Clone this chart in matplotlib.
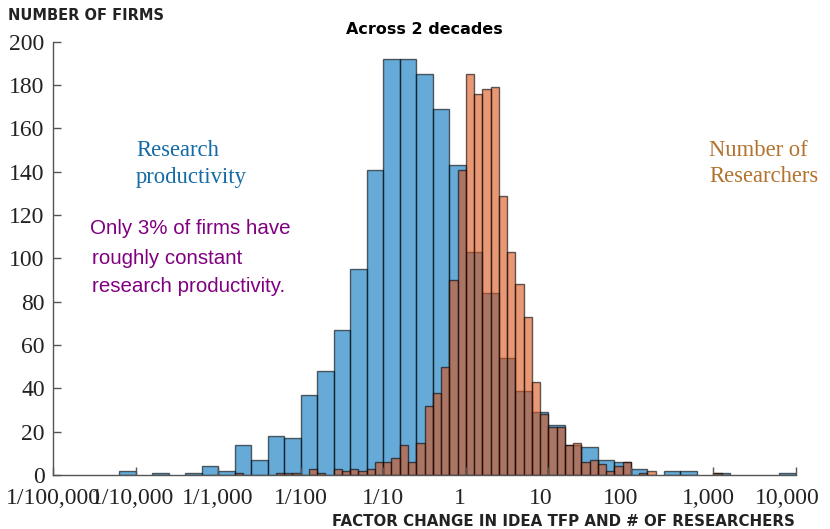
import numpy as np
import matplotlib
matplotlib.use("Agg")
import matplotlib.pyplot as plt
from matplotlib.transforms import ScaledTranslation

# ---- data (log10 bin edges and counts) ----
blue_bin_start = -5.0
blue_bin_width = 0.2
blue_counts = [0, 0, 0, 0, 2, 0, 1, 0, 1, 4,
               2, 14, 7, 18, 17, 37, 48, 67, 95, 141,
               192, 192, 185, 169, 143, 103, 84, 54, 39, 29,
               23, 14, 13, 7, 6, 3, 0, 2, 2, 0,
               1, 0, 0, 0, 1]

orange_bin_start = -5.0
orange_bin_width = 0.1
orange_counts = [0] * 22 + [1, 0, 0, 0, 0, 1, 1, 1, 0, 3,
                            1, 0, 3, 2, 3, 2, 3, 6, 6, 8,
                            14, 6, 15, 32, 38, 50, 90, 141, 185, 176,
                            178, 179, 129, 103, 88, 73, 43, 28, 22, 22,
                            14, 15, 6, 7, 5, 2, 4, 6, 0, 1,
                            2, 0, 0, 0, 0, 0, 0, 0, 1]

x_ticks = [1e-5, 1e-4, 1e-3, 1e-2, 1e-1, 1, 10, 100, 1000, 10000]
x_tick_labels = ["1/100,000", "1/10,000", "1/1,000", "1/100", "1/10",
                 "1", "10", "100", "1,000", "10,000"]
y_ticks = [0, 20, 40, 60, 80, 100, 120, 140, 160, 180, 200]

blue_col = (0.0, 0.447, 0.741)
orange_col = (0.85, 0.325, 0.098)

fig = plt.figure(figsize=(8.30, 5.29), dpi=100)
W, H = 830, 529
ax = fig.add_axes([53 / W, (H - 475) / H, (796 - 53) / W, (475 - 41.7) / H])

def draw(counts, start, width, color):
    n = len(counts)
    lo = start + width * np.arange(n)
    left = 10 ** lo
    right = 10 ** (lo + width)
    c = np.array(counts, dtype=float)
    m = c > 0
    ax.bar(left[m], c[m], width=(right - left)[m], align="edge",
           color=color, alpha=0.6, edgecolor="black", linewidth=1.0)

draw(blue_counts, blue_bin_start, blue_bin_width, blue_col)
draw(orange_counts, orange_bin_start, orange_bin_width, orange_col)

ax.set_xscale("log")
ax.set_xlim(1e-5, 1e4)
ax.set_ylim(0, 200)
ax.set_xticks(x_ticks)
ax.set_xticklabels(x_tick_labels)
ax.minorticks_off()
ax.set_yticks(y_ticks)
for s in ["top", "right"]:
    ax.spines[s].set_visible(False)
for s in ["left", "bottom"]:
    ax.spines[s].set_color("#555555")
    ax.spines[s].set_linewidth(1.0)
ax.tick_params(axis="both", direction="in", length=6, width=1.0, color="#555555",
               labelsize=17)
ax.tick_params(axis="x", pad=9)
ax.tick_params(axis="y", pad=6)
for lab in ax.get_xticklabels() + ax.get_yticklabels():
    lab.set_family("Liberation Serif")
    lab.set_color("#222222")

# slight horizontal nudges of x tick labels as in the reference
shifts_px = [0, -3, 0, 0, 0, -6, -8, -10, -5, -9]
for lab, dx in zip(ax.get_xticklabels(), shifts_px):
    lab.set_transform(lab.get_transform() + ScaledTranslation(dx / 100, 0, fig.dpi_scale_trans))

fig.text(8 / W, 1 - 15 / H, "NUMBER OF FIRMS", fontsize=10.5, fontweight="bold",
         family="DejaVu Sans", color="#222222", va="center", ha="left")
fig.text(424 / W, 1 - 29 / H, "Across 2 decades", fontsize=11.5, fontweight="bold",
         family="DejaVu Sans", color="black", va="center", ha="center")
fig.text(795 / W, 1 - 521 / H, "FACTOR CHANGE IN IDEA TFP AND # OF RESEARCHERS",
         fontsize=10.8, fontweight="bold", family="DejaVu Sans", color="#222222",
         va="center", ha="right")

blue_txt = (0.08, 0.42, 0.66)
brown_txt = (0.70, 0.45, 0.18)
fig.text(136 / W, 1 - 150 / H, "Research", fontsize=16.3, family="Liberation Serif",
         color=blue_txt, va="center", ha="left")
fig.text(136 / W, 1 - 177 / H, "productivity", fontsize=16.3, family="Liberation Serif",
         color=blue_txt, va="center", ha="left")
fig.text(709 / W, 1 - 150 / H, "Number of", fontsize=16.3, family="Liberation Serif",
         color=brown_txt, va="center", ha="left")
fig.text(709 / W, 1 - 177 / H, "Researchers", fontsize=16.3, family="Liberation Serif",
         color=brown_txt, va="center", ha="left")

purple = "#800080"
fig.text(90 / W, 1 - 229 / H, "Only 3% of firms have", fontsize=14.8,
         family="Liberation Sans", color=purple, va="center", ha="left")
fig.text(92 / W, 1 - 258 / H, "roughly constant", fontsize=14.8,
         family="Liberation Sans", color=purple, va="center", ha="left")
fig.text(92 / W, 1 - 287 / H, "research productivity.", fontsize=14.8,
         family="Liberation Sans", color=purple, va="center", ha="left")

fig.savefig("out.png", dpi=100)
